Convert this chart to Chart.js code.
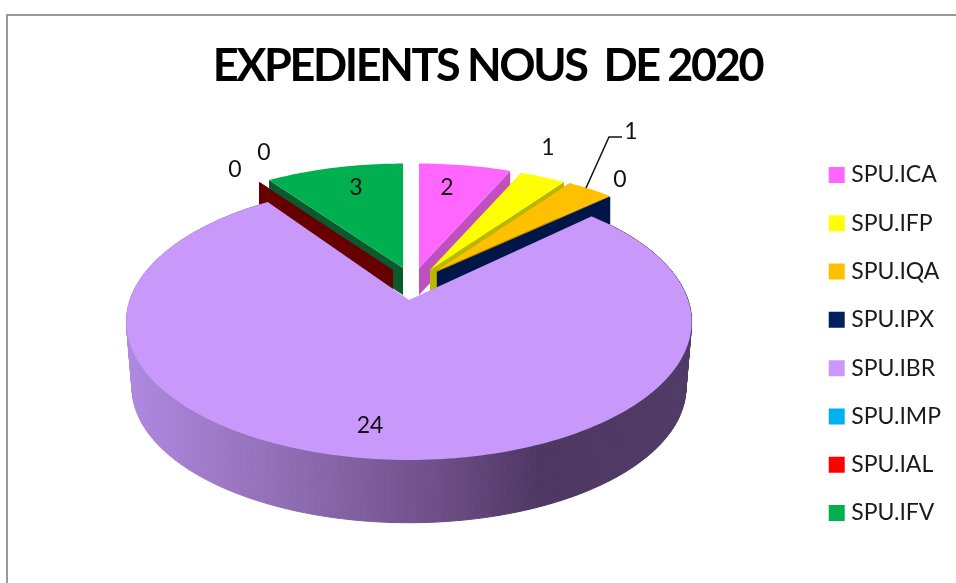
<!DOCTYPE html>
<html>
<head>
<meta charset="utf-8">
<title>Expedients nous de 2020</title>
<script src="https://cdn.jsdelivr.net/npm/chart.js@4"></script>
<style>
  body { margin: 0; background: #fff; overflow: hidden; }
  #frame { position: absolute; left: 6px; top: 14px; width: 960px; height: 600px; border-top: 2px solid #999; border-left: 2px solid #999; }
  canvas { position: absolute; left: 0; top: 0; }
</style>
</head>
<body>
<div id="frame"></div>
<canvas id="myChart" width="956" height="583"></canvas>
<script>
const categories = ["SPU.ICA", "SPU.IFP", "SPU.IQA", "SPU.IPX", "SPU.IBR", "SPU.IMP", "SPU.IAL", "SPU.IFV"];
const expedients = [2, 1, 1, 0, 24, 0, 0, 3];
const sliceColors = ["#FF66FF", "#FFFF00", "#FFC000", "#002060", "#C899FB", "#00B0F0", "#FF0000", "#00B050"];
const wallColors = ["#C050C0", "#B8B800", "#B88A00", "#001648", "#8A68A8", "#007DAA", "#660000", "#0A5A2C"];

// how far each slice was pulled out of the pie, in pixels from the centre
const pullX = [10, 21, 27, 28, 0, -16, -16, -6];
const pullY = [-32, -30, -29, -28, 0, -30, -30, -32];
// label position relative to the slice tip
const labelDX = [28, 118, 195, 183, -39, -129, -158, -47];
const labelDY = [-80, -122, -139, -92, 126, -117, -100, -80];
const drawOrder = [0, 1, 2, 3, 7, 5, 6, 4];

const pieX = 409;
const pieY = 300;
const spanX = 279;
const spanY = 134.5;
const tilt = 0.159; // perspective: far side of the disc gets smaller

function project(angle, x0, y0, sx, sy) {
  const u = Math.cos(angle);
  const v = -Math.sin(angle);
  const w = 1 + tilt * v;
  return [x0 + (spanX * sx * u) / w, y0 - (spanY * sy * v) / w];
}

function rimPoints(arc, x0, y0, sx, sy) {
  const pts = [];
  const steps = Math.max(1, Math.ceil((arc.endAngle - arc.startAngle) / 0.02));
  for (let i = 0; i <= steps; i++) {
    const a = arc.startAngle + ((arc.endAngle - arc.startAngle) * i) / steps;
    pts.push(project(a, x0, y0, sx, sy));
  }
  return pts;
}

function poly(ctx, pts, fill) {
  ctx.beginPath();
  pts.forEach((p, i) => (i ? ctx.lineTo(p[0], p[1]) : ctx.moveTo(p[0], p[1])));
  ctx.closePath();
  ctx.fillStyle = fill;
  ctx.fill();
}

const pie3d = {
  id: "pie3d",
  afterLayout(chart) {
    // the title in the picture is squeezed tight
    const title = chart.titleBlock;
    if (title.squeezed) return;
    title.squeezed = true;
    const drawTitle = title.draw.bind(title);
    title.draw = () => {
      chart.ctx.letterSpacing = "-2.4px";
      drawTitle();
      chart.ctx.letterSpacing = "0px";
    };
  },
  beforeDatasetsDraw(chart) {
    const ctx = chart.ctx;
    const arcs = chart.getDatasetMeta(0).data;
    ctx.save();
    drawOrder.forEach((i) => {
      const big = i === 4;
      const sx = big ? 1 : 0.95;
      const sy = big ? 1 : 0.9;
      const depth = big ? 66 : 27;
      const x0 = pieX + pullX[i];
      const y0 = pieY + pullY[i];
      const top = rimPoints(arcs[i], x0, y0, sx, sy);

      if (big) {
        const low = rimPoints(arcs[i], x0, y0 + depth, sx * 0.98, sy * 0.98);
        const grad = ctx.createLinearGradient(125, 0, 692, 0);
        grad.addColorStop(0, "#B089E2");
        grad.addColorStop(0.3, "#8E6CB0");
        grad.addColorStop(0.55, "#6E4F88");
        grad.addColorStop(0.73, "#4E3763");
        grad.addColorStop(1, "#503A66");
        ctx.strokeStyle = grad;
        ctx.lineWidth = 1;
        for (let k = 0; k < top.length - 1; k++) {
          const quad = [top[k], top[k + 1], low[k + 1], low[k]];
          poly(ctx, quad, grad);
          ctx.stroke();
        }
      } else {
        // the two flat cut faces under the slice
        [top[0], top[top.length - 1]].forEach((p) => {
          poly(ctx, [[x0, y0], p, [p[0], p[1] + depth], [x0, y0 + depth]], wallColors[i]);
        });
      }
      poly(ctx, [[x0, y0]].concat(top), sliceColors[i]);
    });

    // value labels
    ctx.fillStyle = "#111";
    ctx.font = "23px Lato";
    ctx.textAlign = "center";
    ctx.textBaseline = "middle";
    expedients.forEach((val, i) => {
      ctx.fillText(String(val), pieX + pullX[i] + labelDX[i], pieY + pullY[i] + labelDY[i]);
    });

    // leader for the SPU.IQA label
    ctx.strokeStyle = "#111";
    ctx.lineWidth = 1.5;
    ctx.beginPath();
    ctx.moveTo(586, 188);
    ctx.lineTo(609, 137);
    ctx.lineTo(622, 137);
    ctx.stroke();
    ctx.restore();
    return false; // slices are done here, skip the flat pie
  },
};

const myChart = new Chart("myChart", {
  type: "pie",
  data: {
    labels: categories,
    datasets: [{ data: expedients, backgroundColor: sliceColors, borderWidth: 0 }],
  },
  options: {
    responsive: false,
    animation: false,
    layout: { padding: { left: 24, right: 5, top: 39, bottom: 0 } },
    plugins: {
      tooltip: { enabled: false },
      title: {
        display: true,
        text: "EXPEDIENTS NOUS  DE 2020",
        color: "#000",
        font: { family: "Lato", size: 45, weight: "bold" },
        padding: { top: 0, bottom: 12 },
      },
      legend: {
        position: "right",
        fullSize: false,
        labels: {
          // small box with a fat outline keeps the text close to the swatch
          boxWidth: 6,
          boxHeight: 6,
          padding: 25.3,
          color: "#1a1a1a",
          font: { family: "Lato", size: 23 },
          generateLabels(chart) {
            return Chart.overrides.pie.plugins.legend.labels.generateLabels(chart).map((item) => {
              item.lineWidth = 10;
              item.strokeStyle = item.fillStyle;
              return item;
            });
          },
        },
      },
    },
  },
  plugins: [pie3d],
});
</script>
</body>
</html>
